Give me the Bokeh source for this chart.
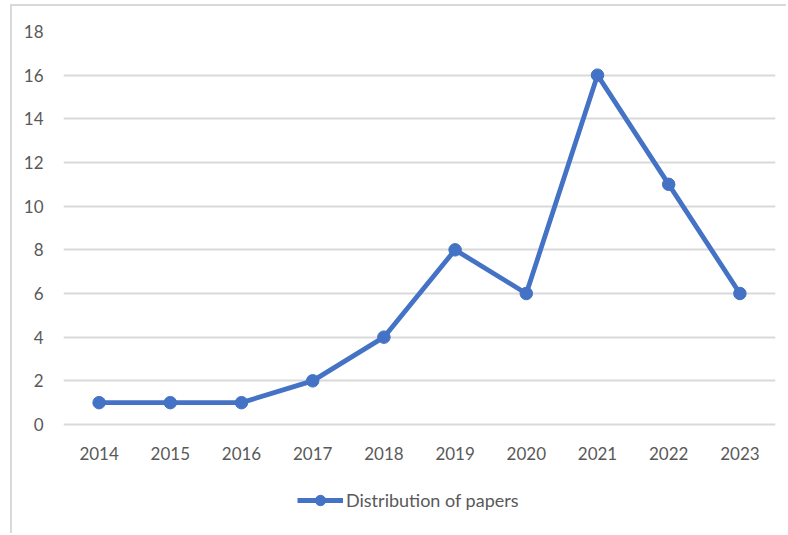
from bokeh.plotting import figure
from bokeh.models import ColumnDataSource, Legend, LegendItem, FixedTicker, Range1d
from bokeh.core.properties import value
from bokeh.embed import file_html
from bokeh.resources import INLINE

years = ["2014", "2015", "2016", "2017", "2018", "2019", "2020", "2021", "2022", "2023"]
papers = [1, 1, 1, 2, 4, 8, 6, 16, 11, 6]
y_ticks = [0, 2, 4, 6, 8, 10, 12, 14, 16, 18]
series_name = "Distribution of papers"

BLUE = "#4472C4"
GRID = "#D9D9D9"
TXT = "#595959"
FONT = "Lato"

# layout (pixels)
W, H = 776, 529
LEFT, RIGHT, TOP = 51, 13, 25
PLOT_H = 393            # height of the 0..18 value band
frame_h = H - TOP
y_max = y_ticks[-1]
y_min = y_max - frame_h * y_max / PLOT_H   # extra room below 0 for labels + legend

src = ColumnDataSource(dict(year=years, n=papers))
lab = ColumnDataSource(dict(year=years, base=[y_ticks[0]] * len(years), text=years))

p = figure(x_range=years, y_range=Range1d(y_min, y_max), width=W, height=H,
           output_backend="svg", toolbar_location=None,
           min_border_left=LEFT, min_border_right=RIGHT, min_border_top=TOP, min_border_bottom=0,
           styles={"border-left": "2px solid #D9D9D9", "border-top": "2px solid #D9D9D9"},
           margin=(4, 0, 0, 10))
p.x_range.range_padding = 0
p.outline_line_color = None
p.background_fill_color = "white"
p.border_fill_color = "white"

r_line = p.line("year", "n", source=src, line_color=BLUE, line_width=4.8)
r_pts = p.scatter("year", "n", source=src, size=12.5, fill_color=BLUE, line_color=BLUE)

# category labels under the zero line
p.text("year", "base", text="text", source=lab, y_offset=29,
       text_align="center", text_baseline="middle",
       text_font=value(FONT), text_font_size="17px", text_color=TXT)

p.xaxis.visible = False
p.xgrid.grid_line_color = None
p.ygrid.grid_line_color = GRID
p.ygrid.grid_line_width = 2
p.yaxis.ticker = FixedTicker(ticks=y_ticks)

ax = p.yaxis[0]
ax.major_tick_line_color = None
ax.minor_tick_line_color = None
ax.axis_line_color = None
ax.major_label_text_font = FONT
ax.major_label_text_font_size = "17px"
ax.major_label_text_color = TXT
ax.major_label_standoff = 14

legend = Legend(items=[LegendItem(label=series_name, renderers=[r_line, r_pts])],
                orientation="horizontal", location=(234, 22),
                label_text_font=FONT, label_text_font_size="18px", label_text_color=TXT,
                glyph_width=46, glyph_height=26, label_standoff=3,
                border_line_color=None, background_fill_alpha=0, margin=0, padding=0)
p.add_layout(legend)

open("out.html", "w").write(file_html(p, INLINE))
